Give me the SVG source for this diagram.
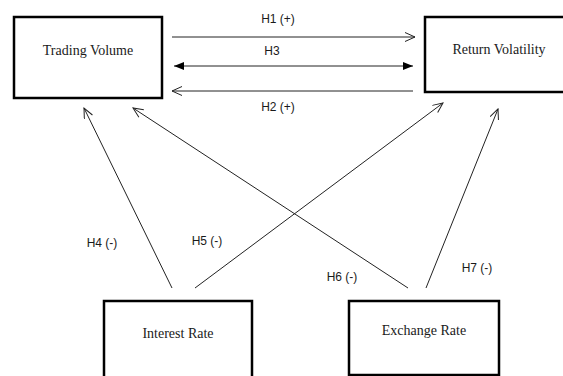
<svg xmlns="http://www.w3.org/2000/svg" width="563" height="376" viewBox="0 0 563 376">
<style>
.box{fill:#fff;stroke:#000;stroke-width:2.5}
.lbl{font-family:"Liberation Serif","Times New Roman",serif;font-size:14px;fill:#1a1a1a;text-anchor:middle}
.h{font-family:"Liberation Sans",Arial,sans-serif;font-size:12px;fill:#1a1a1a;text-anchor:middle}
.ln{stroke:#222;stroke-width:1;fill:none}
</style>
<defs>
<marker id="open" viewBox="0 0 12 10" refX="11" refY="5" markerWidth="12" markerHeight="10" markerUnits="userSpaceOnUse" orient="auto-start-reverse">
<path d="M1,0.5 L11,5 L1,9.5" fill="none" stroke="#222" stroke-width="1"/>
</marker>
<marker id="solid" viewBox="0 0 10 8" refX="10" refY="4" markerWidth="10" markerHeight="8" markerUnits="userSpaceOnUse" orient="auto-start-reverse">
<path d="M0,0 L10,4 L0,8 Z" fill="#000"/>
</marker>
</defs>
<rect width="563" height="376" fill="#fff"/>
<g id="trading-volume"><rect class="box" x="14" y="17" width="148" height="81"/><text class="lbl" x="88" y="55">Trading Volume</text></g>
<g id="return-volatility"><rect class="box" x="425" y="17" width="150" height="75"/><text class="lbl" x="499" y="54">Return Volatility</text></g>
<g id="interest-rate"><rect class="box" x="104" y="301" width="148" height="90"/><text class="lbl" x="178" y="338">Interest Rate</text></g>
<g id="exchange-rate"><rect class="box" x="349" y="301" width="150" height="74"/><text class="lbl" x="424" y="335">Exchange Rate</text></g>
<g id="connectors">
<line class="ln" x1="172" y1="37" x2="415" y2="37" marker-end="url(#open)"/>
<line class="ln" x1="174" y1="66" x2="413" y2="66" stroke-width="1.3" marker-start="url(#solid)" marker-end="url(#solid)"/>
<line class="ln" x1="413" y1="91" x2="172" y2="91" marker-end="url(#open)"/>
<line class="ln" x1="172" y1="288" x2="84" y2="108" marker-end="url(#open)"/>
<line class="ln" x1="408" y1="288" x2="133" y2="108" marker-end="url(#open)"/>
<line class="ln" x1="195" y1="288" x2="443" y2="103" marker-end="url(#open)"/>
<line class="ln" x1="426" y1="288" x2="498" y2="109" marker-end="url(#open)"/>
<text class="h" x="278" y="23">H1 (+)</text>
<text class="h" x="272" y="55">H3</text>
<text class="h" x="278" y="111">H2 (+)</text>
<text class="h" x="102" y="247">H4 (-)</text>
<text class="h" x="207" y="245">H5 (-)</text>
<text class="h" x="342" y="281">H6 (-)</text>
<text class="h" x="477" y="272">H7 (-)</text>
</g>
</svg>
